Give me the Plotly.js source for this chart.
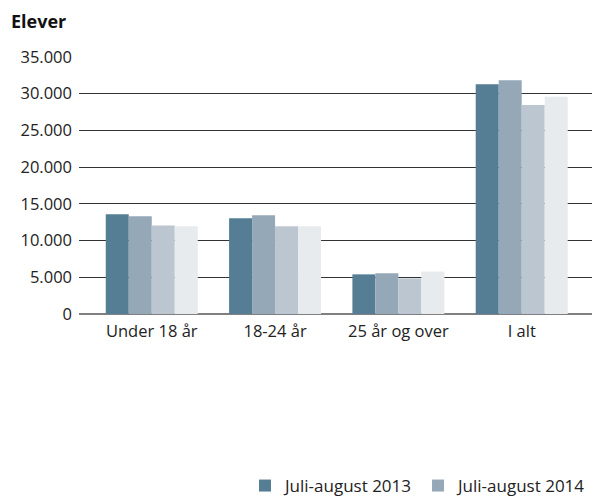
<!DOCTYPE html>
<html>
<head>
<meta charset="utf-8">
<script src="https://cdn.plot.ly/plotly-3.0.1.min.js"></script>
<style>html,body{margin:0;padding:0;background:#fff;}#chart{width:592px;height:497px;}</style>
</head>
<body>
<div id="chart"></div>
<script>
var categories = ["Under 18 år", "18-24 år", "25 år og over", "I alt"];
var seriesNames = ["Juli-august 2013", "Juli-august 2014", "Serie 3", "Serie 4"];
var values2013 = [13600, 13050, 5400, 31300];
var values2014 = [13300, 13450, 5550, 31850];
var values3 = [12050, 11950, 4850, 28450];
var values4 = [11950, 11950, 5800, 29600];
var colors = ["#557e95", "#94a8b8", "#bcc6d0", "#e7ebee"];
var showInLegend = [true, true, false, false];

var allValues = [values2013, values2014, values3, values4];
var traces = allValues.map(function(v, i){
  return {
    type: "bar",
    x: categories,
    y: v,
    name: seriesNames[i],
    marker: {color: colors[i], line: {width: 0}},
    showlegend: showInLegend[i],
    hoverinfo: "none"
  };
});

var layout = {
  width: 592, height: 497,
  margin: {l: 79, r: 0, t: 57, b: 183, autoexpand: false},
  paper_bgcolor: "#fff", plot_bgcolor: "#fff",
  separators: ",.",
  font: {family: "Open Sans, Noto Sans, sans-serif", size: 16, color: "#222"},
  title: {text: "<b>Elever</b>", x: 11/592, xanchor: "left", xref: "container",
          y: 1 - 22/497, yanchor: "middle", yref: "container",
          font: {size: 18, color: "#111"}},
  barmode: "group",
  bargap: 0.254,
  bargroupgap: 0,
  xaxis: {
    range: [-0.59, 3.57],
    showgrid: false, zeroline: false, showline: false,
    ticks: "", ticklabelstandoff: 5,
    tickfont: {size: 16.5, color: "#222"}
  },
  yaxis: {
    range: [0, 35000],
    tickvals: [0, 5000, 10000, 15000, 20000, 25000, 30000, 35000],
    tickformat: ",d",
    showgrid: true, gridcolor: "#333", gridwidth: 1,
    zeroline: true, zerolinecolor: "#808080", zerolinewidth: 1.5,
    showline: false, ticks: "", ticklabelstandoff: 6,
    tickfont: {size: 16.5, color: "#222"}
  },
  showlegend: true,
  legend: {
    orientation: "h", x: 1, xanchor: "right", xref: "container",
    y: 1 - 486/497, yanchor: "middle", yref: "container",
    font: {size: 17, color: "#222"}, itemsizing: "constant",
    traceorder: "normal", bgcolor: "rgba(0,0,0,0)"
  }
};

Plotly.newPlot("chart", traces, layout, {displayModeBar: false, staticPlot: true});
</script>
</body>
</html>
